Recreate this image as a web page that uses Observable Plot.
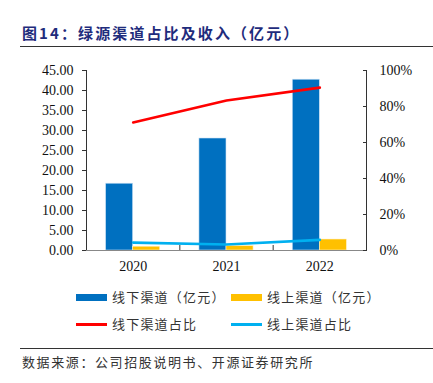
<!DOCTYPE html>
<html>
<head>
<meta charset="utf-8">
<script src="https://cdn.jsdelivr.net/npm/d3@7"></script>
<script src="https://cdn.jsdelivr.net/npm/@observablehq/plot@0.6"></script>
<style>
  body { margin: 0; background: #fff; }
  #root { position: relative; width: 433px; height: 383px; overflow: hidden; font-family: "Noto Sans CJK SC", sans-serif; }
  #title { position: absolute; left: 22px; top: 22px; font-size: 15px; font-weight: bold; color: #1f2c7c; letter-spacing: 2.1px; white-space: nowrap; font-family: "Noto Sans CJK SC", serif; }
  .hr { position: absolute; left: 20px; width: 413px; height: 1px; background: #333; }
  #chart { position: absolute; left: 0; top: 55px; }
  .leg { position: absolute; font-size: 13px; color: #333; letter-spacing: 1.2px; white-space: nowrap; line-height: 16px; }
  .sw { position: absolute; }
  #source { position: absolute; left: 22px; top: 354px; font-size: 13px; color: #333; letter-spacing: 1.6px; white-space: nowrap; line-height: 16px; }
</style>
</head>
<body>
<div id="root">
  <div id="title">图14：绿源渠道占比及收入（亿元）</div>
  <div class="hr" style="top:46px"></div>
  <div id="chart"></div>
  <div id="legend"></div>
  <div class="hr" style="top:348px"></div>
  <div id="source">数据来源：公司招股说明书、开源证券研究所</div>
</div>
<script>
const years = ["2020", "2021", "2022"];
const offlineRevenue = [16.7, 28.0, 42.7];   // 线下渠道（亿元）
const onlineRevenue = [0.95, 1.1, 2.75];     // 线上渠道（亿元）
const offlineShare = [71.1, 83.3, 90.5];     // 线下渠道占比 %
const onlineShare = [4.4, 3.3, 5.9];         // 线上渠道占比 %
const leftTicks = [0, 5, 10, 15, 20, 25, 30, 35, 40, 45];
const rightTicks = [0, 20, 40, 60, 80, 100];

const legendItems = [
  {label: "线下渠道（亿元）", color: "#0070C0", type: "bar"},
  {label: "线上渠道（亿元）", color: "#FFC000", type: "bar"},
  {label: "线下渠道占比", color: "#FF0000", type: "line"},
  {label: "线上渠道占比", color: "#00B0F0", type: "line"}
];

const yMax = 45;
const pctToY = p => p / 100 * yMax;
const data = years.map((y, i) => ({
  year: y, i,
  offline: offlineRevenue[i], online: onlineRevenue[i],
  offPct: offlineShare[i], onPct: onlineShare[i]
}));
const barW = 0.29;

const chart = Plot.plot({
  width: 433,
  height: 225,
  marginLeft: 86,
  marginRight: 67,
  marginTop: 15,
  marginBottom: 30,
  style: {fontFamily: "'Liberation Serif', 'Times New Roman', serif", fontSize: "14px", color: "#111"},
  x: {type: "linear", domain: [0, years.length]},
  y: {domain: [0, yMax]},
  marks: [
    Plot.rectY(data, {x1: d => d.i + 0.5 - barW, x2: d => d.i + 0.5, y: "offline", fill: "#0070C0", stroke: "#cfe3f5", strokeWidth: 0.6}),
    Plot.rectY(data, {x1: d => d.i + 0.5, x2: d => d.i + 0.5 + barW, y: "online", fill: "#FFC000", stroke: "#fff2cc", strokeWidth: 0.6}),
    Plot.line(data, {x: d => d.i + 0.5, y: d => pctToY(d.offPct), stroke: "#FF0000", strokeWidth: 2.6}),
    Plot.line(data, {x: d => d.i + 0.5, y: d => pctToY(d.onPct), stroke: "#00B0F0", strokeWidth: 2.6}),
    Plot.ruleY([0], {stroke: "#888", strokeWidth: 1.2}),
    Plot.ruleX([0], {stroke: "#333"}),
    Plot.ruleX([years.length], {stroke: "#333"}),
    Plot.axisY({ticks: leftTicks, tickFormat: d => d.toFixed(2), tickSize: 4, tickPadding: 9, stroke: "#333"}),
    Plot.axisY({ticks: rightTicks.map(pctToY), anchor: "right", tickSize: 0, tickPadding: 13, tickFormat: d => Math.round(d / yMax * 100) + "%"}),
    Plot.axisY({ticks: rightTicks.map(pctToY), anchor: "right", tickSize: -4, text: null, stroke: "#333"}),
    Plot.axisX({ticks: years.map((y, i) => i + 0.5), tickFormat: (d) => years[Math.round(d - 0.5)], tickSize: 0, tickPadding: 11}),
    Plot.axisX({ticks: d3.range(1, years.length), tickSize: -5, text: null, stroke: "#333"})
  ]
});
document.getElementById("chart").appendChild(chart);

const legend = document.getElementById("legend");
const colX = [76, 231], rowY = [297, 324], textDx = 36;
legendItems.forEach((it, k) => {
  const cx = colX[k % 2], cy = rowY[Math.floor(k / 2)];
  const sw = document.createElement("div");
  sw.className = "sw";
  const h = it.type === "bar" ? 7 : 3;
  sw.style.cssText = `left:${cx}px;top:${cy - h / 2}px;width:31px;height:${h}px;background:${it.color};`;
  legend.appendChild(sw);
  const t = document.createElement("div");
  t.className = "leg";
  t.textContent = it.label;
  t.style.left = (cx + textDx) + "px";
  t.style.top = (cy - 8) + "px";
  legend.appendChild(t);
});
</script>
</body>
</html>
